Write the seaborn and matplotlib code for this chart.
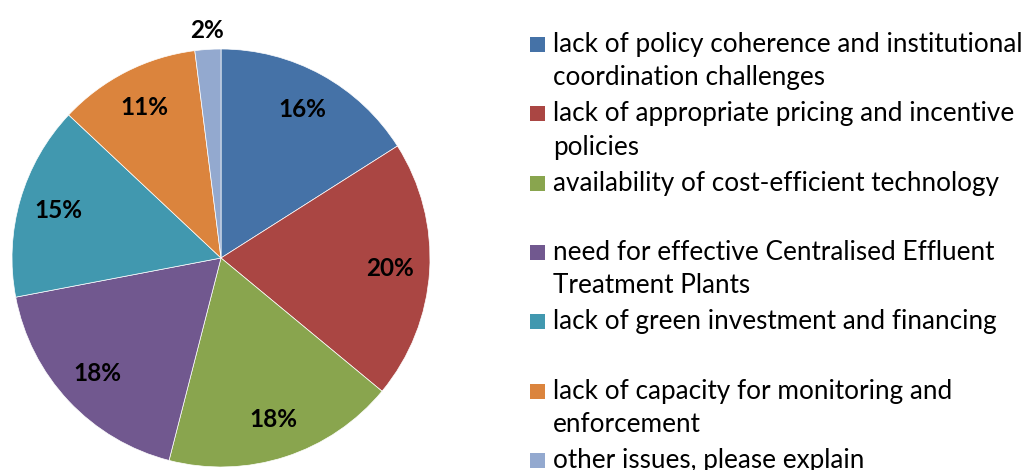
import matplotlib
matplotlib.use("Agg")
import matplotlib.pyplot as plt
from matplotlib.patches import Rectangle
import numpy as np
import seaborn as sns

# Survey answers: share of respondents per issue
categories = [
    "lack of policy coherence and institutional\ncoordination challenges",
    "lack of appropriate pricing and incentive\npolicies",
    "availability of cost-efficient technology",
    "need for effective Centralised Effluent\nTreatment Plants",
    "lack of green investment and financing",
    "lack of capacity for monitoring and\nenforcement",
    "other issues, please explain",
]
shares = [16, 20, 18, 18, 15, 11, 2]
slice_colors = ["#4572A7", "#AA4643", "#89A54E", "#71588F",
                "#4198AF", "#DB843D", "#93A9CF"]

sns.set_theme(style="white")
plt.rcParams["font.family"] = ["Lato", "DejaVu Sans"]

W, H = 1028, 470
fig = plt.figure(figsize=(W / 100, H / 100), dpi=100)
fig.patch.set_facecolor("white")


def fx(px):
    return px / W


def fy(py):
    return 1 - py / H


# pie axes, placed in pixel terms (centre and radius)
cx, cy, r = 221, 258, 209
ax = fig.add_axes([fx(cx - r), fy(cy + r), 2 * r / W, 2 * r / H])
wedges, _ = ax.pie(shares, colors=slice_colors, startangle=90,
                   counterclock=False, radius=1,
                   wedgeprops=dict(edgecolor="white", linewidth=0.5))
ax.set_xlim(-1, 1)
ax.set_ylim(-1, 1)
ax.set_aspect("equal")
ax.axis("off")

renderer = fig.canvas.get_renderer()


def fitted_size(text, target_px, weight="normal"):
    t = fig.text(0, 0, text, fontsize=20, fontweight=weight)
    w = t.get_window_extent(renderer).width
    t.remove()
    return 20 * target_px / w


pct_size = fitted_size("16%", 48, "bold")
for w, s in zip(wedges, shares):
    mid = np.deg2rad((w.theta1 + w.theta2) / 2)
    dist = 0.81 if s >= 5 else 1.09
    ax.text(dist * np.cos(mid), dist * np.sin(mid), f"{s}%",
            ha="center", va="center", fontsize=pct_size,
            fontweight="bold", color="black")

# legend: coloured square plus wrapped label, fixed two-line pitch
leg_size = fitted_size("lack of policy coherence and institutional", 469)
sq_left, sq_top, sq = 530, 37, 15
text_left, first_base = 553, 52
entry_pitch, line_pitch = 69.3, 33.5
for i, (lab, col) in enumerate(zip(categories, slice_colors)):
    top = sq_top + i * entry_pitch
    fig.patches.append(Rectangle((fx(sq_left), fy(top + sq)), sq / W, sq / H,
                                 transform=fig.transFigure, facecolor=col,
                                 edgecolor="none"))
    for j, line in enumerate(lab.split("\n")):
        fig.text(fx(text_left), fy(first_base + i * entry_pitch + j * line_pitch),
                 line, ha="left", va="baseline", fontsize=leg_size,
                 color="black")

fig.savefig("out.png", dpi=100, facecolor="white")
